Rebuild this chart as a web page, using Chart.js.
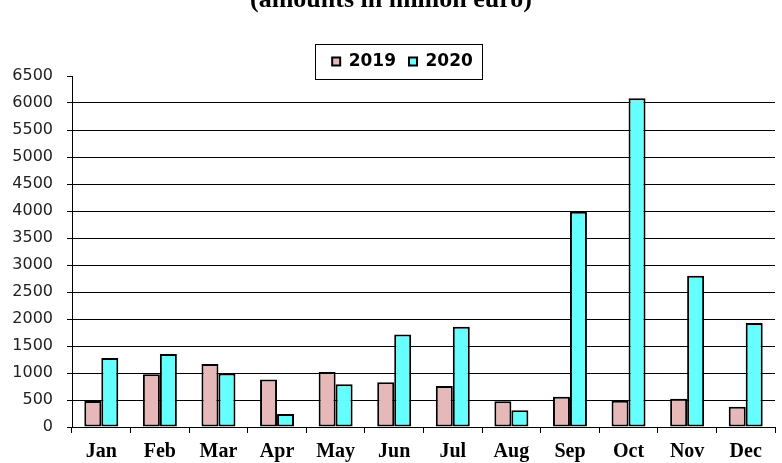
<!DOCTYPE html>
<html lang="en">
<head>
<meta charset="UTF-8">
<title>Monthly amounts 2019 vs 2020</title>
<script src="https://cdn.jsdelivr.net/npm/chart.js"></script>
<style>
    html, body { margin: 0; padding: 0; background: #fff; }
    #wrap { position: relative; width: 782px; height: 463px; overflow: hidden; }
    #title {
        position: absolute; left: 0; top: -14px; width: 782px;
        text-align: center; font: bold 26px/26px 'Liberation Serif', serif; color: #000;
    }
</style>
</head>
<body>
<div id="wrap">
    <canvas id="chart" width="782" height="463"></canvas>
    <div id="title">(amounts in million euro)</div>
</div>
<script>
    // data
    const months = ['Jan', 'Feb', 'Mar', 'Apr', 'May', 'Jun', 'Jul', 'Aug', 'Sep', 'Oct', 'Nov', 'Dec'];
    const values2019 = [480, 975, 1165, 880, 1020, 830, 760, 475, 560, 485, 525, 375];
    const values2020 = [1280, 1350, 990, 240, 790, 1715, 1855, 310, 3985, 6090, 2800, 1925];
    const yTicks = [0, 500, 1000, 1500, 2000, 2500, 3000, 3500, 4000, 4500, 5000, 5500, 6000, 6500];

    // nudge the legend a bit right/down and draw a frame around it
    const legendFrame = {
        id: 'legendFrame',
        afterLayout(chart) {
            const lg = chart.legend;
            lg.left += 15; lg.right += 15;
            lg.top += 4; lg.bottom += 4;
        },
        afterDraw(chart) {
            const boxes = chart.legend.legendHitBoxes;
            if (!boxes || !boxes.length) return;
            const l = Math.min(...boxes.map(b => b.left)) - 17;
            const r = Math.max(...boxes.map(b => b.left + b.width)) + 9;
            const cy = boxes[0].top + boxes[0].height / 2;
            const ctx = chart.ctx;
            ctx.save();
            ctx.strokeStyle = '#000';
            ctx.lineWidth = 1;
            ctx.strokeRect(Math.round(l) + 0.5, Math.round(cy - 17.5) + 0.5, Math.round(r - l), 35);
            ctx.restore();
        }
    };

    new Chart(document.getElementById('chart'), {
        type: 'bar',
        data: {
            labels: months,
            datasets: [
                {
                    label: '2019',
                    data: values2019,
                    backgroundColor: '#E6B9B8',
                    borderColor: '#000',
                    borderWidth: 2,
                    borderSkipped: false,
                    categoryPercentage: 0.58,
                    barPercentage: 1.0
                },
                {
                    label: '2020',
                    data: values2020,
                    backgroundColor: '#66FFFF',
                    borderColor: '#000',
                    borderWidth: 2,
                    borderSkipped: false,
                    categoryPercentage: 0.58,
                    barPercentage: 1.0
                }
            ]
        },
        options: {
            responsive: false,
            animation: false,
            layout: { padding: { left: 0, right: 7, top: 36, bottom: 0 } },
            plugins: {
                tooltip: { enabled: false },
                legend: {
                    position: 'top',
                    labels: {
                        color: '#000',
                        font: { family: 'DejaVu Sans', size: 17, weight: 'bold' },
                        boxWidth: 8,
                        boxHeight: 8,
                        padding: 13
                    }
                }
            },
            scales: {
                x: {
                    afterFit: s => { s.height = 36; },
                    border: { color: '#000', width: 1 },
                    grid: { drawOnChartArea: false, tickLength: 6, tickColor: '#000', offset: true },
                    ticks: {
                        color: '#000',
                        padding: 7,
                        font: { family: 'Liberation Serif', size: 20, weight: 'bold' }
                    }
                },
                y: {
                    min: 0,
                    max: 6500,
                    afterFit: s => { s.width = 72; },
                    afterBuildTicks: s => { s.ticks = yTicks.map(v => ({ value: v })); },
                    border: { color: '#000', width: 1 },
                    grid: {
                        color: c => (c.tick && (c.tick.value === 0 || c.tick.value === 6500)) ? 'rgba(0,0,0,0)' : '#000',
                        tickColor: '#000',
                        tickLength: 5
                    },
                    ticks: {
                        color: '#222',
                        padding: 14,
                        callback: v => String(v),
                        font: { family: 'DejaVu Sans', size: 16 }
                    }
                }
            }
        },
        plugins: [legendFrame]
    });
</script>
</body>
</html>
